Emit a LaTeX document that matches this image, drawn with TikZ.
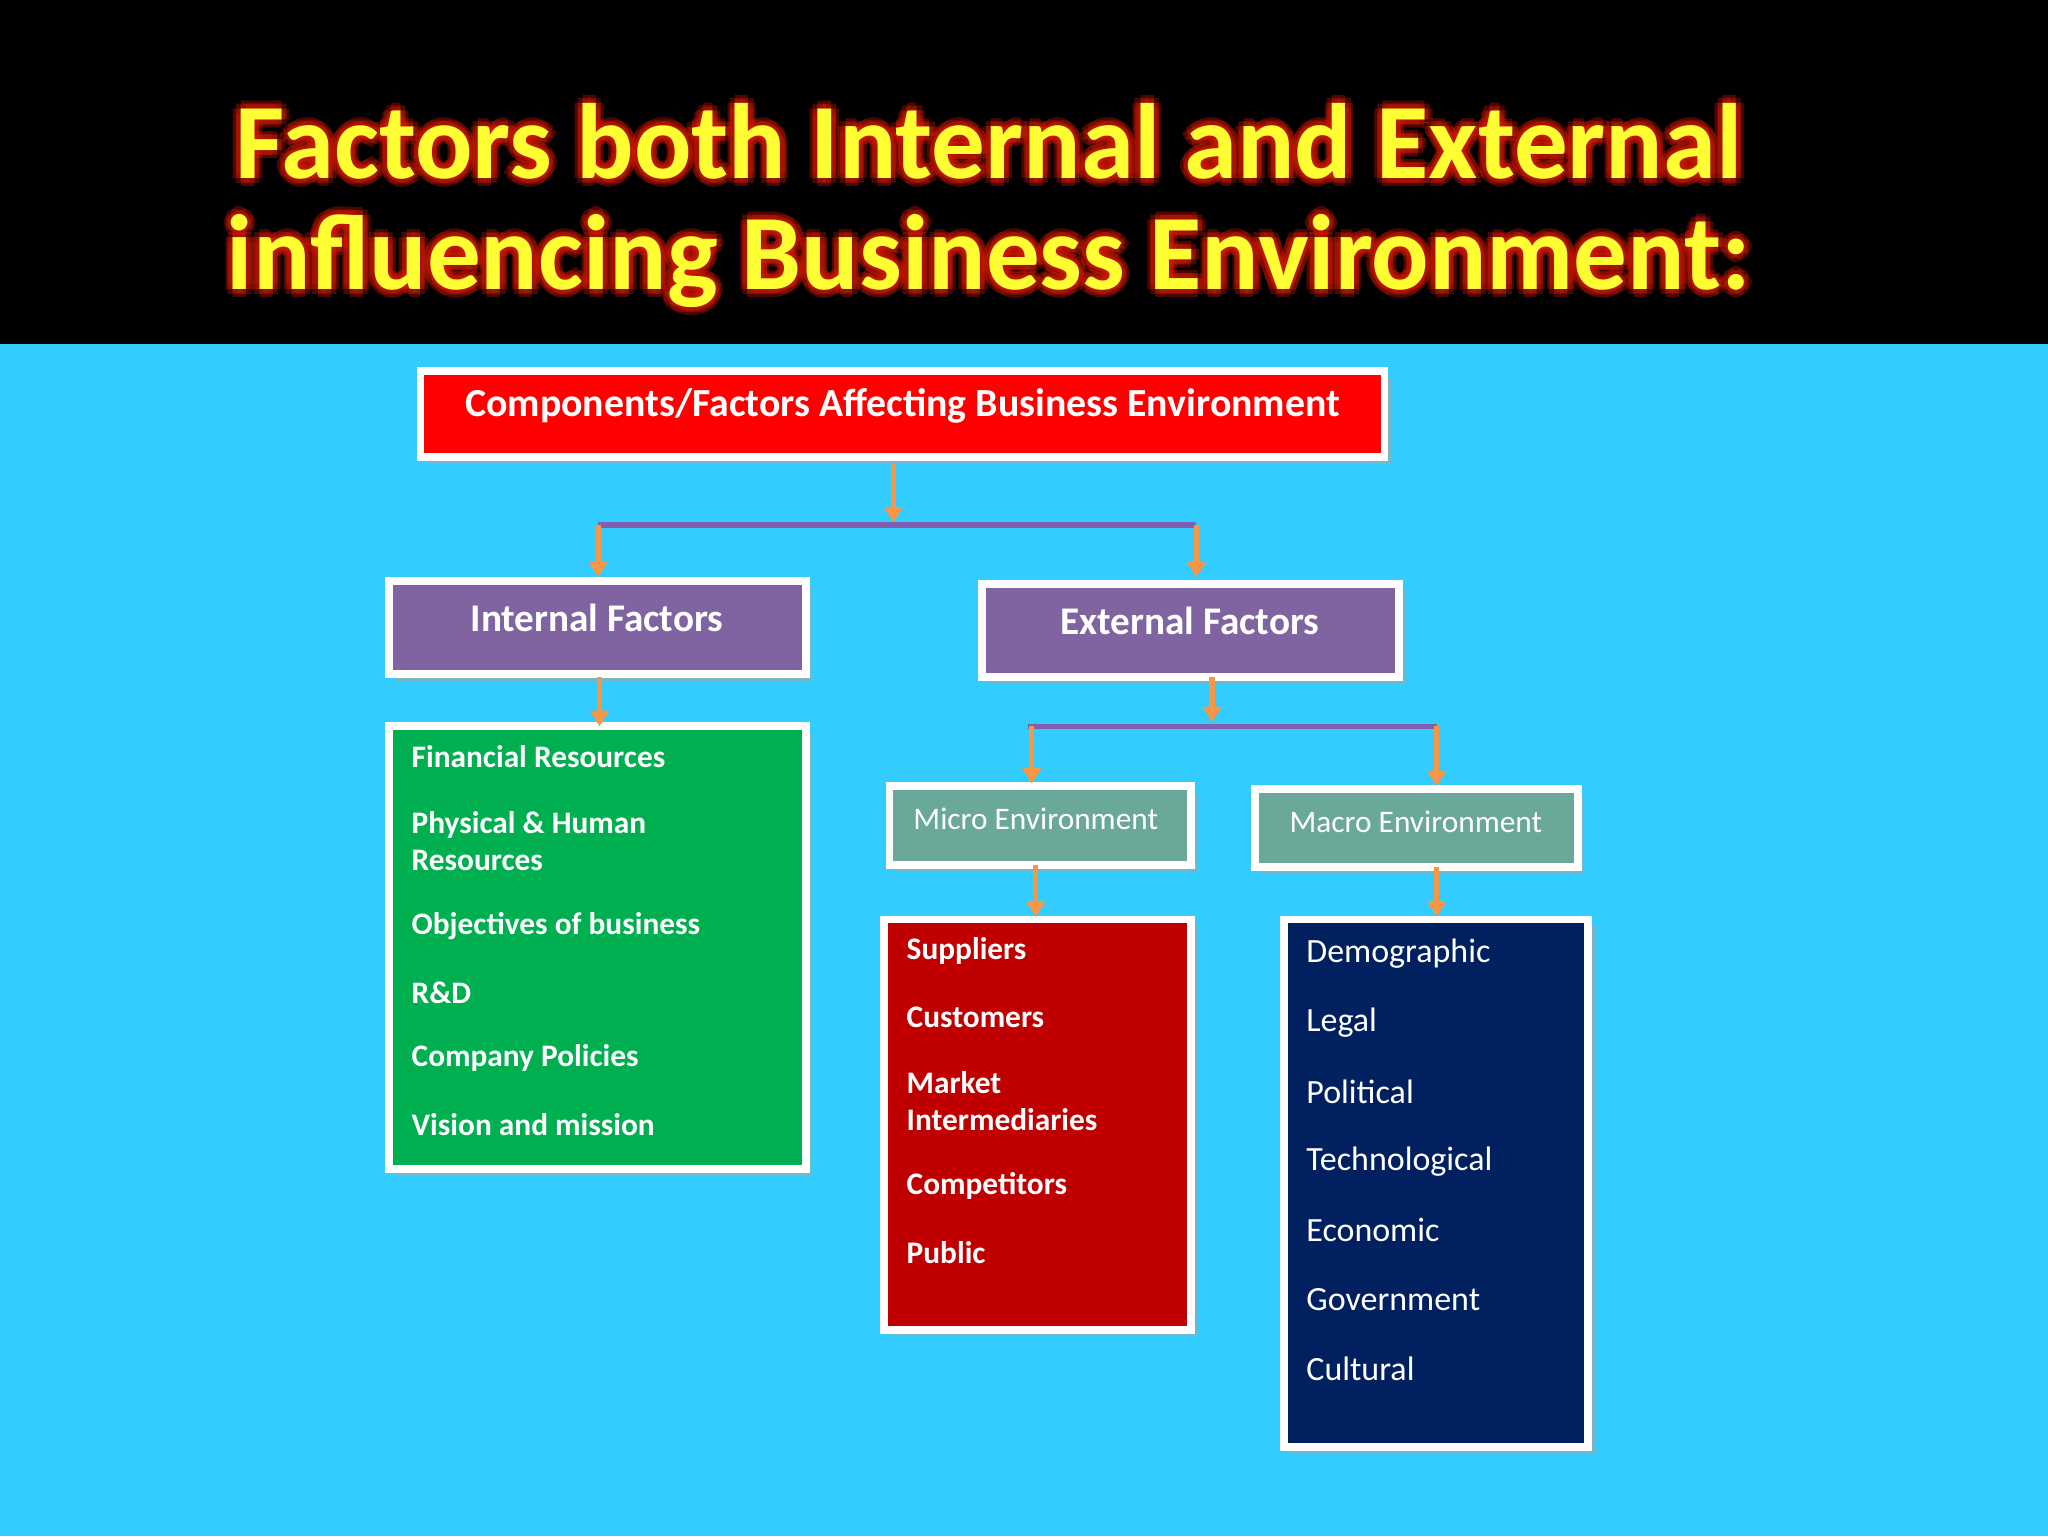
\documentclass[tikz,border=0pt]{standalone}
\usepackage{fontspec}
\setmainfont{Carlito}
\usetikzlibrary{arrows.meta}
\definecolor{sky}{HTML}{33CCFF}
\definecolor{ttl}{HTML}{FFFF33}
\definecolor{glow}{HTML}{D01800}
\definecolor{topred}{HTML}{FF0000}
\definecolor{purp}{HTML}{8064A2}
\definecolor{grn}{HTML}{00B050}
\definecolor{teal}{HTML}{6AA89A}
\definecolor{dred}{HTML}{C00000}
\definecolor{navy}{HTML}{002060}
\definecolor{org}{HTML}{F79646}
\definecolor{linep}{HTML}{7F5FAF}
\tikzset{
  box/.style={draw=white,line width=6pt},
  shad/.style={fill=black!35,opacity=0.6},
  arr/.style={draw=org,line width=4pt,-{Triangle[length=12pt,width=14pt]}},
  hl/.style={draw=linep,line width=4pt},
  item/.style={anchor=west,inner sep=0pt,text=white,font=\fontsize{24}{29}\selectfont\bfseries,align=left},
  mitem/.style={anchor=west,inner sep=0pt,text=white,font=\fontsize{26}{30}\selectfont},
  ttext/.style={font=\fontsize{82}{96}\selectfont\bfseries}
}
\newcommand{\bx}[6]{%
  \fill[shad] (#1+5,#2+5) rectangle (#3+5,#4+5);
  \draw[box,fill=#5] (#1,#2) rectangle (#3,#4);
  \node (#6) at ({(#1+#3)/2},{(#2+#4)/2}) {};}
\begin{document}
\begin{tikzpicture}[x=1pt,y=-1pt]
\useasboundingbox (0,0) rectangle (1568,1176);
\fill[sky] (0,0) rectangle (1568,1176);
\fill[black] (0,0) rectangle (1568,263);
% title with glow
\foreach \dx/\dy in {-6/0,6/0,0/-6,0/6,-4/-4,4/4,-4/4,4/-4,-3/0,3/0,0/-3,0/3}{
  \node[ttext,text=glow,opacity=0.35] at (757+\dx,108+\dy) {Factors both Internal and External};
  \node[ttext,text=glow,opacity=0.35] at (757+\dx,200+\dy) {influencing Business Environment:};
}
\node[ttext,text=ttl] (t1) at (757,108) {Factors both Internal and External};
\node[ttext,text=ttl] (t2) at (757,200) {influencing Business Environment:};
% boxes
\bx{322}{284}{1060}{350}{topred}{top}
\node[text=white,font=\fontsize{30.5}{34}\selectfont\bfseries] at (691,311) {Components/Factors Affecting Business Environment};
\bx{298}{445}{617}{516}{purp}{int}
\node[text=white,font=\fontsize{30}{34}\selectfont\bfseries] at (457,473) {Internal Factors};
\bx{752}{447}{1071}{518}{purp}{ext}
\node[text=white,font=\fontsize{30}{34}\selectfont\bfseries] at (911,475) {External Factors};
\bx{298}{556}{617}{895}{grn}{gbox}
\bx{681}{602}{912}{662}{teal}{mic}
\node[text=white,font=\fontsize{24}{28}\selectfont] at (793,627) {Micro Environment};
\bx{961}{604}{1208}{664}{teal}{mac}
\node[text=white,font=\fontsize{24}{28}\selectfont] at (1084,629) {Macro Environment};
\bx{677}{704}{912}{1018}{dred}{rbox}
\bx{983}{704}{1216}{1108}{navy}{nbox}
% connectors
\coordinate (s1) at (684,355); \coordinate (e1) at (684,400);
\draw[hl] (458,402) coordinate (hA) -- (916,402) coordinate (hB);
\draw[arr] (s1) -- (e1);
\draw[arr] (hA) -- (458,442);
\draw[arr] (hB) -- (916,442);
\draw[arr] (459,518) -- (459,556);
\draw[hl] (787,556) coordinate (hC) -- (1100,556) coordinate (hD);
\draw[arr] (928,518) -- (928,553);
\draw[arr] (790,556) -- (790,600);
\draw[arr] (hD) -- (1100,602);
\draw[arr] (793,662) -- (793,702);
\draw[arr] (1100,664) -- (1100,702);
% lists
\node[item] at (315,579) {Financial Resources};
\node[item] at (315,644) {Physical \& Human\\Resources};
\node[item] at (315,709) {Objectives of business};
\node[item] at (315,760) {R\&D};
\node[item] at (315,810) {Company Policies};
\node[item] at (315,861) {Vision and mission};
\node[item] at (694,728) {Suppliers};
\node[item] at (694,779) {Customers};
\node[item] at (694,843) {Market\\Intermediaries};
\node[item] at (694,908) {Competitors};
\node[item] at (694,959) {Public};
\node[mitem] at (1000,730) {Demographic};
\node[mitem] at (1000,783) {Legal};
\node[mitem] at (1000,836) {Political};
\node[mitem] at (1000,889) {Technological};
\node[mitem] at (1000,942) {Economic};
\node[mitem] at (1000,995) {Government};
\node[mitem] at (1000,1048) {Cultural};
\end{tikzpicture}
\end{document}
